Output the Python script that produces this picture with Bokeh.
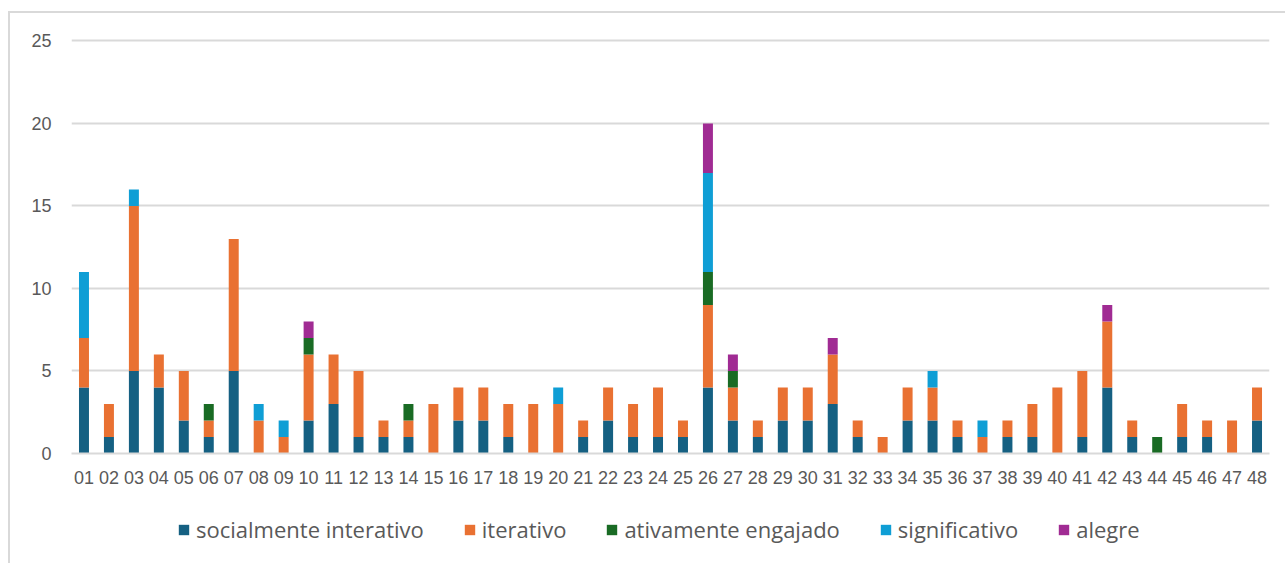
from bokeh.plotting import figure
from bokeh.layouts import column
from bokeh.models import ColumnDataSource, Legend, LegendItem, FactorRange, FixedTicker
from bokeh.embed import file_html
from bokeh.resources import INLINE

categories = ["01", "02", "03", "04", "05", "06", "07", "08", "09", "10",
              "11", "12", "13", "14", "15", "16", "17", "18", "19", "20",
              "21", "22", "23", "24", "25", "26", "27", "28", "29", "30",
              "31", "32", "33", "34", "35", "36", "37", "38", "39", "40",
              "41", "42", "43", "44", "45", "46", "47", "48"]

socialmente_interativo = [4, 1, 5, 4, 2, 1, 5, 0, 0, 2,
                          3, 1, 1, 1, 0, 2, 2, 1, 0, 0,
                          1, 2, 1, 1, 1, 4, 2, 1, 2, 2,
                          3, 1, 0, 2, 2, 1, 0, 1, 1, 0,
                          1, 4, 1, 0, 1, 1, 0, 2]
iterativo = [3, 2, 10, 2, 3, 1, 8, 2, 1, 4,
             3, 4, 1, 1, 3, 2, 2, 2, 3, 3,
             1, 2, 2, 3, 1, 5, 2, 1, 2, 2,
             3, 1, 1, 2, 2, 1, 1, 1, 2, 4,
             4, 4, 1, 0, 2, 1, 2, 2]
ativamente_engajado = [0, 0, 0, 0, 0, 1, 0, 0, 0, 1,
                       0, 0, 0, 1, 0, 0, 0, 0, 0, 0,
                       0, 0, 0, 0, 0, 2, 1, 0, 0, 0,
                       0, 0, 0, 0, 0, 0, 0, 0, 0, 0,
                       0, 0, 0, 1, 0, 0, 0, 0]
significativo = [4, 0, 1, 0, 0, 0, 0, 1, 1, 0,
                 0, 0, 0, 0, 0, 0, 0, 0, 0, 1,
                 0, 0, 0, 0, 0, 6, 0, 0, 0, 0,
                 0, 0, 0, 0, 1, 0, 1, 0, 0, 0,
                 0, 0, 0, 0, 0, 0, 0, 0]
alegre = [0, 0, 0, 0, 0, 0, 0, 0, 0, 1,
          0, 0, 0, 0, 0, 0, 0, 0, 0, 0,
          0, 0, 0, 0, 0, 3, 1, 0, 0, 0,
          1, 0, 0, 0, 0, 0, 0, 0, 0, 0,
          0, 1, 0, 0, 0, 0, 0, 0]

series_keys = ["social", "iter", "ativ", "signif", "alegre"]
series_labels = ["socialmente interativo", "iterativo", "ativamente engajado",
                 "significativo", "alegre"]
colors = ["#156082", "#E97132", "#196B24", "#0F9ED5", "#A02B93"]
y_ticks = [0, 5, 10, 15, 20, 25]

source = ColumnDataSource(data=dict(
    cat=categories,
    social=socialmente_interativo,
    iter=iterativo,
    ativ=ativamente_engajado,
    signif=significativo,
    alegre=alegre,
))

p = figure(
    x_range=FactorRange(*categories, range_padding=0),
    y_range=(0, 25.15),
    width=1275, height=490,
    output_backend="svg", toolbar_location=None,
    min_border_left=61, min_border_right=16, min_border_top=25, min_border_bottom=50,
)
p.outline_line_color = None
p.background_fill_color = "white"
p.border_fill_color = "white"

p.vbar_stack(series_keys, x="cat", width=0.4, color=colors, line_color=None, source=source)

font = "Liberation Sans"
p.yaxis.ticker = FixedTicker(ticks=y_ticks)
p.yaxis.axis_line_color = None
p.yaxis.major_tick_line_color = None
p.yaxis.major_tick_out = 0
p.yaxis.minor_tick_line_color = None
p.yaxis.major_label_text_font = font
p.yaxis.major_label_text_font_size = "18px"
p.yaxis.major_label_text_color = "#595959"
p.yaxis.major_label_standoff = 20

p.xaxis.axis_line_color = "#d9d9d9"
p.xaxis.axis_line_width = 2
p.xaxis.major_tick_line_color = None
p.xaxis.major_tick_out = 0
p.xaxis.minor_tick_line_color = None
p.xaxis.major_label_text_font = font
p.xaxis.major_label_text_font_size = "18px"
p.xaxis.major_label_text_color = "#595959"
p.xaxis.major_label_standoff = 17

p.xgrid.grid_line_color = None
p.ygrid.grid_line_color = "#d9d9d9"
p.ygrid.grid_line_width = 2

# legend panel: same series drawn outside its visible range, so only the legend shows
lf = figure(
    x_range=FactorRange(*categories, range_padding=0),
    y_range=(100, 101),
    width=1275, height=60,
    output_backend="svg", toolbar_location=None,
    x_axis_location=None, y_axis_location=None,
    min_border=0, min_border_left=0, min_border_right=0, min_border_top=0, min_border_bottom=0,
)
lf.grid.visible = False
lf.outline_line_color = None
lf.border_fill_color = "white"
leg_renderers = lf.vbar_stack(series_keys, x="cat", width=0.4, color=colors,
                              line_color=None, source=source)

legend = Legend(
    items=[LegendItem(label=lab, renderers=[r]) for lab, r in zip(series_labels, leg_renderers)],
    orientation="horizontal", location=(106, 19),
    label_text_font="Open Sans", label_text_font_size="22px", label_text_color="#595959",
    glyph_width=13, glyph_height=13, label_standoff=6, spacing=39,
    border_line_color=None, background_fill_alpha=0, padding=0, margin=0,
)
lf.add_layout(legend, "center")

layout = column(p, lf, spacing=0, margin=(11, 0, 0, 8),
                styles={"border-left": "2px solid #d9d9d9", "border-top": "2px solid #d9d9d9"})

open("out.html", "w").write(file_html(layout, INLINE))
